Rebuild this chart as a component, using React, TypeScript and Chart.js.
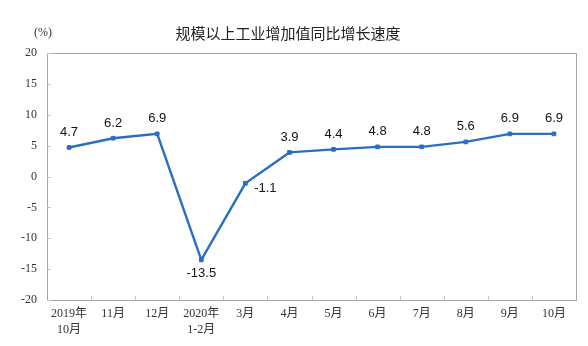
import React, { useEffect, useRef } from "react";
import { Chart, registerables } from "chart.js";

Chart.register(...registerables);

const titleText = "规模以上工业增加值同比增长速度";
const unitText = "(%)";
const categories: (string | string[])[] = [
  ["2019年", "10月"],
  "11月",
  "12月",
  ["2020年", "1-2月"],
  "3月",
  "4月",
  "5月",
  "6月",
  "7月",
  "8月",
  "9月",
  "10月",
];
const growth = [4.7, 6.2, 6.9, -13.5, -1.1, 3.9, 4.4, 4.8, 4.8, 5.6, 6.9, 6.9];
const yMin = -20;
const yMax = 20;
const yStep = 5;

const LINE_COLOR = "#2a6fc0";
const BORDER_COLOR = "#a6a6a6";

const frameAndTicks = {
  id: "frameAndTicks",
  afterDraw(chart: any) {
    const { ctx, chartArea } = chart;
    const x = chart.scales.x;
    const y = chart.scales.y;
    ctx.save();
    ctx.strokeStyle = BORDER_COLOR;
    ctx.lineWidth = 1;
    ctx.strokeRect(
      Math.round(chartArea.left) + 0.5,
      Math.round(chartArea.top) + 0.5,
      Math.round(chartArea.right - chartArea.left),
      Math.round(chartArea.bottom - chartArea.top)
    );
    ctx.strokeStyle = "#c8c8c8";
    ctx.beginPath();
    const n = x.ticks.length;
    for (let i = 1; i < n; i++) {
      const px = Math.round((x.getPixelForTick(i - 1) + x.getPixelForTick(i)) / 2) + 0.5;
      ctx.moveTo(px, chartArea.bottom);
      ctx.lineTo(px, chartArea.bottom - 4);
    }
    y.ticks.forEach((_t: any, i: number) => {
      const py = Math.round(y.getPixelForTick(i)) + 0.5;
      ctx.moveTo(chartArea.left, py);
      ctx.lineTo(chartArea.left + 4, py);
    });
    ctx.stroke();
    ctx.fillStyle = "#333";
    ctx.font = '12px "Liberation Serif", serif';
    ctx.textAlign = "center";
    ctx.textBaseline = "middle";
    ctx.fillText(unitText, 43, 33);
    ctx.restore();
  },
};

const valueLabels = {
  id: "valueLabels",
  afterDatasetsDraw(chart: any) {
    const { ctx } = chart;
    const meta = chart.getDatasetMeta(0);
    ctx.save();
    ctx.fillStyle = "#111";
    ctx.font = '13px "Liberation Sans", Arial, sans-serif';
    ctx.textAlign = "center";
    ctx.textBaseline = "middle";
    meta.data.forEach((pt: any, i: number) => {
      const v = growth[i];
      let dx = 0;
      let dy = -15;
      if (v < -5) dy = 14;
      else if (v < 0) {
        dx = 20;
        dy = 5;
      }
      ctx.fillText(v.toFixed(1), pt.x + dx, pt.y + dy);
    });
    ctx.restore();
  },
};

export default function App() {
  const ref = useRef<HTMLCanvasElement | null>(null);
  useEffect(() => {
    if (!ref.current) return;
    const chart = new Chart(ref.current, {
      type: "line",
      data: {
        labels: categories,
        datasets: [
          {
            data: growth,
            borderColor: LINE_COLOR,
            backgroundColor: LINE_COLOR,
            borderWidth: 2.4,
            pointStyle: "rect",
            pointRadius: 2.6,
            pointHoverRadius: 2.6,
            pointBorderWidth: 1,
            tension: 0,
          },
        ],
      },
      options: {
        responsive: false,
        animation: false,
        layout: { padding: { left: 0, right: 12, top: 0, bottom: 0 } },
        plugins: {
          legend: { display: false },
          tooltip: { enabled: false },
          title: {
            display: true,
            text: titleText,
            color: "#222",
            font: { family: '"Noto Sans CJK SC", sans-serif', size: 15, weight: "normal", lineHeight: 1.2 },
            padding: { top: 24, bottom: 11 },
          },
        },
        scales: {
          x: {
            offset: true,
            grid: { display: false, drawTicks: false },
            border: { display: false },
            ticks: {
              color: "#333",
              font: { family: '"Liberation Serif", "Noto Sans CJK SC", serif', size: 12, lineHeight: 1.3 },
              padding: 6,
              maxRotation: 0,
              autoSkip: false,
            },
            afterFit: (s: any) => {
              s.height = 46;
            },
          },
          y: {
            min: yMin,
            max: yMax,
            grid: { display: false, drawTicks: false },
            border: { display: false },
            ticks: {
              stepSize: yStep,
              color: "#333",
              font: { family: '"Liberation Serif", serif', size: 12 },
              padding: 10,
            },
            afterFit: (s: any) => {
              s.width = 47;
            },
          },
        },
      },
      plugins: [frameAndTicks, valueLabels],
    });
    return () => chart.destroy();
  }, []);
  return (
    <div style={{ position: "fixed", left: 0, top: 0, width: 588, height: 346, background: "#fff" }}>
      <canvas ref={ref} width={588} height={346} style={{ width: 588, height: 346, display: "block" }} />
    </div>
  );
}
